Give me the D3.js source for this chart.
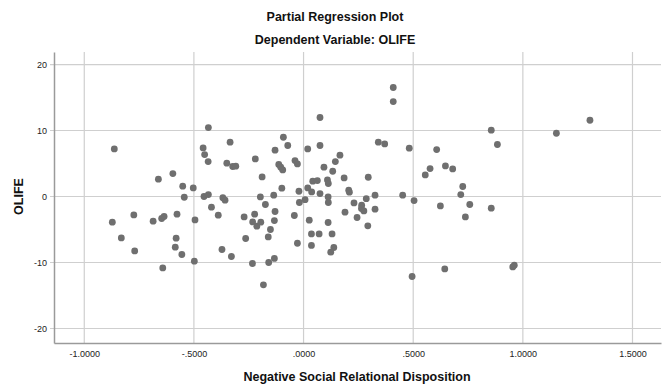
<!DOCTYPE html>
<html>
<head>
<meta charset="utf-8">
<script src="https://cdn.jsdelivr.net/npm/d3@7"></script>
<style>
  body { margin: 0; background: #fff; }
  svg { display: block; font-family: "Liberation Sans", Arial, sans-serif; }
</style>
</head>
<body>
<div id="chart"></div>
<script>
// Partial regression residuals (x = Negative Social Relational Disposition, y = OLIFE)
const xValues = [
  -0.863, -0.434, -0.458, -0.451, -0.435, -0.662, -0.596, -0.551, -0.503, -0.544,
  -0.454, -0.434, -0.420, -0.389, -0.872, -0.774, -0.831, -0.770, -0.686, -0.647,
  -0.636, -0.577, -0.495, -0.581, -0.585, -0.555, -0.498, -0.642, -0.372, -0.335,
  -0.092, -0.072, -0.130, -0.220, -0.350, -0.323, -0.309, -0.113, -0.104, -0.095,
  -0.039, -0.028, -0.189, -0.099, -0.197, -0.136, -0.021, 0.019, 0.075, 0.075,
  0.093, 0.133, 0.145, 0.166, 0.042, 0.063, 0.109, 0.113, 0.019, 0.037,
  0.075, 0.112, 0.185, 0.206, 0.209, 0.295, 0.341, 0.370, 0.286, 0.326,
  -0.368, -0.358, 0.007, -0.019, 0.113, 0.230, 0.265, 0.264, 0.275, 0.326,
  0.189, 0.244, 0.293, -0.174, -0.130, -0.271, -0.223, -0.232, -0.213, -0.195,
  -0.133, -0.151, -0.161, -0.264, -0.042, 0.026, 0.112, 0.036, 0.071, 0.130,
  -0.028, 0.036, 0.138, 0.124, -0.329, -0.233, -0.159, -0.133, -0.183, 0.409,
  0.409, 0.482, 0.607, 0.577, 0.555, 0.647, 0.680, 0.726, 0.717, 0.452,
  0.504, 0.856, 0.884, 1.153, 1.306, 0.624, 0.758, 0.738, 0.856, 0.644,
  0.495, 0.954, 0.961
];
const yValues = [
  7.21, 10.45, 7.36, 6.36, 5.30, 2.62, 3.48, 1.56, 1.30, -0.11,
  0.00, 0.30, -1.62, -2.83, -3.89, -2.79, -6.27, -8.24, -3.74, -3.33,
  -3.03, -2.68, -3.55, -6.32, -7.68, -8.79, -9.80, -10.82, -8.03, 8.23,
  8.98, 7.73, 7.02, 5.70, 5.05, 4.55, 4.59, 4.85, 4.44, 4.03,
  5.45, 4.94, 2.97, 1.26, -0.06, 0.20, 0.80, 7.21, 11.97, 7.73,
  4.44, 3.83, 5.30, 6.26, 2.32, 2.42, 2.52, 1.97, 1.30, 0.70,
  0.45, -0.06, 2.82, 0.95, 0.65, 2.92, 8.23, 7.97, -0.33, 0.20,
  -0.18, -0.56, -0.48, -0.91, -0.91, -0.97, -1.32, -1.82, -2.18, -1.92,
  -2.38, -3.18, -4.45, -1.21, -2.27, -3.09, -2.68, -3.85, -4.50, -3.89,
  -3.64, -5.00, -6.12, -6.36, -2.88, -3.59, -3.94, -5.67, -5.67, -5.67,
  -7.08, -7.42, -7.73, -8.44, -9.09, -10.15, -10.00, -9.39, -13.39, 16.52,
  14.39, 7.32, 7.12, 4.24, 3.27, 4.64, 4.18, 1.52, 0.30, 0.20,
  -0.61, 10.05, 7.88, 9.59, 11.56, -1.42, -1.21, -3.09, -1.77, -10.97,
  -12.12, -10.67, -10.41
];
const xTicks = [-1.0, -0.5, 0.0, 0.5, 1.0, 1.5];
const yTicks = [-20, -10, 0, 10, 20];

const width = 670, height = 390;
const margin = { top: 52, right: 9, bottom: 47, left: 54 };

const svg = d3.select('#chart')
  .append('svg')
  .attr('width', width)
  .attr('height', height);

const x = d3.scaleLinear()
  .domain([-1.138, 1.630])
  .range([margin.left, width - margin.right]);

const y = d3.scaleLinear()
  .domain([-22.2, 21.9])
  .range([height - margin.bottom, margin.top]);

// SPSS style tick text: .5000, -.5000, 1.0000 (plain hyphen minus)
const locale = d3.formatLocale({ decimal: '.', thousands: ',', grouping: [3], currency: ['', ''], minus: '-' });
const fmtX = v => locale.format('.4f')(v).replace(/^(-?)0\./, '$1.');
const fmtY = locale.format('d');

// Gridlines
svg.append('g')
  .selectAll('line.vgrid')
  .data(xTicks)
  .join('line')
  .attr('x1', d => x(d)).attr('x2', d => x(d))
  .attr('y1', margin.top).attr('y2', height - margin.bottom)
  .style('stroke', '#cfcfcf')
  .style('stroke-width', 1.2);

svg.append('g')
  .selectAll('line.hgrid')
  .data(yTicks)
  .join('line')
  .attr('x1', margin.left - 4).attr('x2', width - margin.right)
  .attr('y1', d => y(d)).attr('y2', d => y(d))
  .style('stroke', '#cfcfcf')
  .style('stroke-width', 1.2);

// Axes
const xAxis = svg.append('g')
  .attr('transform', `translate(0,${height - margin.bottom})`)
  .call(d3.axisBottom(x).tickValues(xTicks).tickFormat(fmtX).tickSize(0).tickPadding(8));

const yAxis = svg.append('g')
  .attr('transform', `translate(${margin.left},0)`)
  .call(d3.axisLeft(y).tickValues(yTicks).tickFormat(fmtY).tickSize(0).tickPadding(7));

[xAxis, yAxis].forEach(g => {
  g.select('.domain').style('stroke', '#9a9a9a').style('stroke-width', 1.5);
  g.selectAll('text').style('font-size', '9px').style('fill', '#222')
    .style('font-family', '"Liberation Sans", Arial, sans-serif');
});

// Points
svg.append('g')
  .selectAll('circle')
  .data(xValues.map((v, i) => [v, yValues[i]]))
  .join('circle')
  .attr('cx', d => x(d[0]))
  .attr('cy', d => y(d[1]))
  .attr('r', 3.4)
  .style('fill', '#6f6f6f');

// Titles
svg.append('text')
  .attr('x', 335).attr('y', 21)
  .attr('text-anchor', 'middle')
  .style('font-size', '12.5px').style('font-weight', 'bold').style('fill', '#111')
  .text('Partial Regression Plot');

svg.append('text')
  .attr('x', 335).attr('y', 44)
  .attr('text-anchor', 'middle')
  .style('font-size', '12.5px').style('font-weight', 'bold').style('fill', '#111')
  .text('Dependent Variable: OLIFE');

svg.append('text')
  .attr('x', 357).attr('y', 381)
  .attr('text-anchor', 'middle')
  .style('font-size', '12.5px').style('font-weight', 'bold').style('fill', '#111')
  .text('Negative Social Relational Disposition');

svg.append('text')
  .attr('transform', `translate(23,${y(0)}) rotate(-90)`)
  .attr('text-anchor', 'middle')
  .style('font-size', '12.5px').style('font-weight', 'bold').style('fill', '#111')
  .text('OLIFE');
</script>
</body>
</html>
